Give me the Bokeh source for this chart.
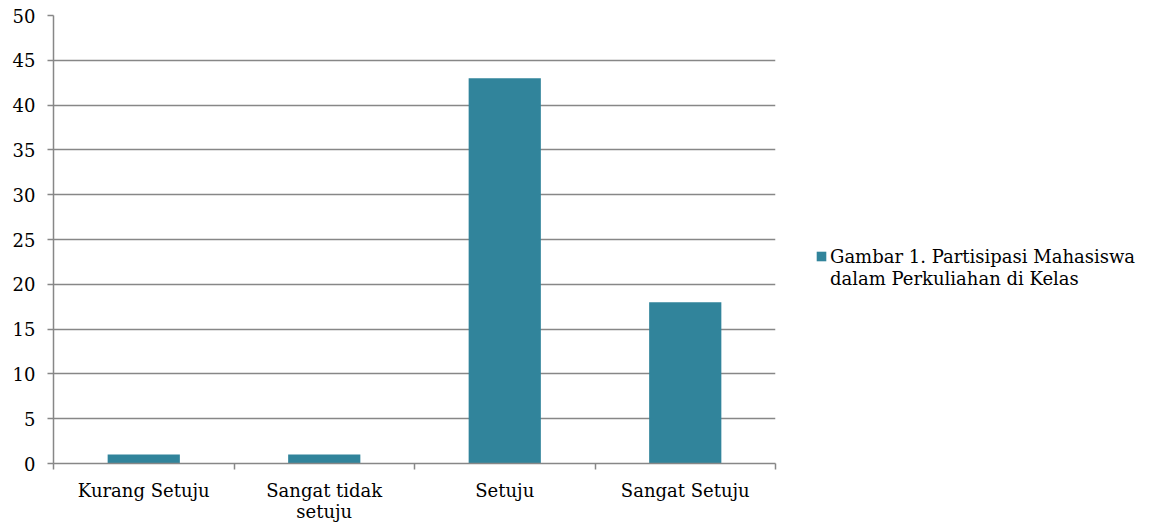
from bokeh.plotting import figure
from bokeh.models import Range1d, FixedTicker, Legend, LegendItem
from bokeh.embed import file_html
from bokeh.resources import INLINE

categories = ["Kurang Setuju", "Sangat tidak\nsetuju", "Setuju", "Sangat Setuju"]
counts = [1, 1, 43, 18]
y_ticks = [0, 5, 10, 15, 20, 25, 30, 35, 40, 45, 50]
series_lines = ["Gambar 1. Partisipasi Mahasiswa", "dalam Perkuliahan di Kelas"]

FONT = "DejaVu Serif"
BAR = "#31849B"
GRID = "#878787"
FS = "18px"

n = len(categories)
centers = [i + 0.5 for i in range(n)]

p = figure(frame_width=722, frame_height=448, output_backend="svg", toolbar_location=None,
           x_range=Range1d(0, n), y_range=Range1d(0, 50),
           min_border_left=53, min_border_right=0, min_border_top=15, min_border_bottom=0)
p.outline_line_color = None
p.background_fill_color = "white"
p.border_fill_color = "white"

r = p.vbar(x=centers, top=counts, width=0.4, fill_color=BAR, line_color=None)
# empty companion renderer so the legend's second text line has no swatch
blank = p.vbar(x=[], top=[], width=0.4, fill_alpha=0, line_alpha=0)

# x axis: labels at category centres, tick marks at category boundaries
xa = p.xaxis[0]
xa.ticker = FixedTicker(ticks=centers, minor_ticks=list(range(n + 1)))
xa.major_label_overrides = {c: lab for c, lab in zip(centers, categories)}
xa.major_tick_line_color = None
xa.minor_tick_in = 0
xa.minor_tick_out = 6
xa.minor_tick_line_color = GRID
xa.minor_tick_line_width = 1.5
xa.axis_line_color = GRID
xa.axis_line_width = 1.5
xa.major_label_standoff = 10
xa.major_label_text_font = FONT
xa.major_label_text_font_size = FS
xa.major_label_text_line_height = 1.0
xa.major_label_text_color = "black"

ya = p.yaxis[0]
ya.ticker = FixedTicker(ticks=y_ticks)
ya.minor_tick_line_color = None
ya.major_tick_in = 0
ya.major_tick_out = 6
ya.major_tick_line_color = GRID
ya.major_tick_line_width = 1.5
ya.axis_line_color = GRID
ya.axis_line_width = 1.5
ya.major_label_standoff = 12
ya.major_label_text_font = FONT
ya.major_label_text_font_size = FS
ya.major_label_text_color = "black"

p.xgrid.grid_line_color = None
p.ygrid.ticker = FixedTicker(ticks=y_ticks)
p.ygrid.grid_line_color = GRID
p.ygrid.grid_line_width = 1.5

legend = Legend(items=[LegendItem(label=series_lines[0], renderers=[r]),
                       LegendItem(label=series_lines[1], renderers=[blank])],
                location=(40, 174), orientation="vertical", spacing=0,
                border_line_color=None, background_fill_alpha=0,
                label_text_font=FONT, label_text_font_size=FS,
                label_text_color="black", label_height=22,
                glyph_width=12, glyph_height=12, label_standoff=3,
                padding=0, margin=0)
p.add_layout(legend, "right")

open("out.html", "w").write(file_html(p, INLINE))
